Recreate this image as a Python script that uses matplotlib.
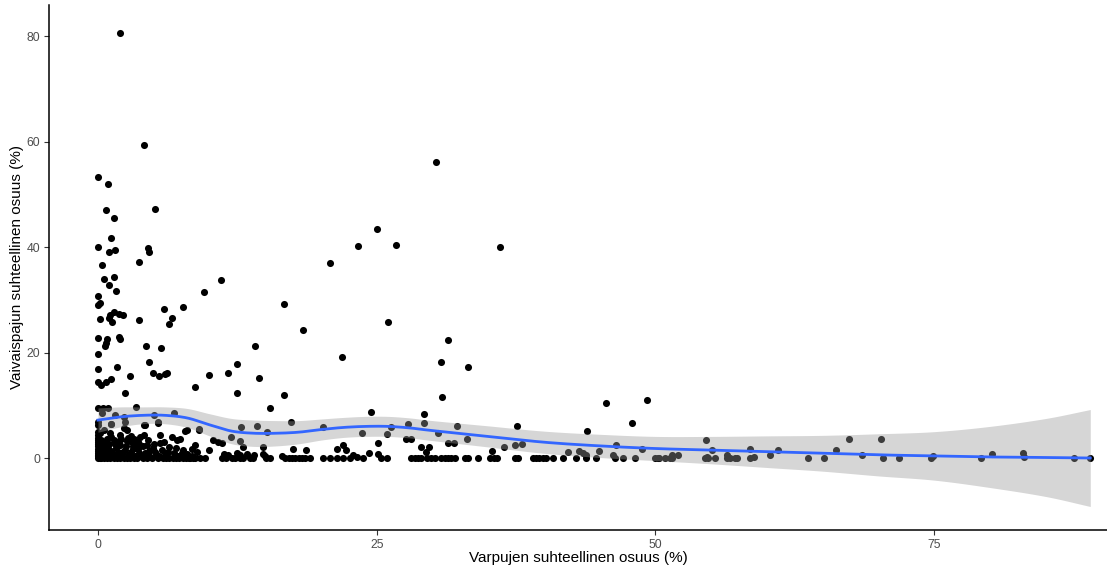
import matplotlib
matplotlib.use("Agg")
import matplotlib.pyplot as plt
import numpy as np

# Scatter data (x = varpujen osuus, y = vaivaispajun osuus)
upper_x = [2.0, 4.1, 0.0, 0.9, 5.1, 0.75, 1.4, 1.2, 0.0, 1.5, 1.0, 4.5, 4.6, 3.7,
           0.4, 1.4, 0.5, 1.0, 1.6, 0.0, 0.15, 0.0, 11.0, 9.5, 7.65, 5.9, 6.6, 6.4,
           3.7, 16.7, 0.2, 0.96, 1.3, 1.4, 1.85, 2.2, 1.1, 0.0, 1.9, 1.95, 0.85,
           0.7, 0.6, 4.3, 5.65, 14.1, 0.0, 0.0, 1.75, 4.6, 4.9, 5.5, 6.0, 6.2, 2.9,
           0.0, 0.25, 0.7, 1.2, 2.4, 8.7, 10.0, 11.7, 12.5, 12.5, 14.4, 15.4, 16.7,
           0.0, 0.45, 0.9, 3.4, 5.0, 6.8, 2.3, 0.33, 1.5, 0.0, 2.4, 4.2, 5.35, 7.8,
           9.1, 1.2, 0.0, 18.4, 21.85]
upper_y = [80.7, 59.4, 53.4, 52.0, 47.3, 47.0, 45.5, 41.8, 40.1, 39.5, 39.0, 39.8,
           39.0, 37.1, 36.6, 34.4, 34.0, 32.8, 31.6, 30.8, 29.5, 29.0, 33.7, 31.5,
           28.7, 28.2, 26.6, 25.4, 26.1, 29.3, 26.4, 26.6, 25.8, 27.7, 27.3, 27.1,
           27.1, 22.7, 23.0, 22.5, 22.5, 21.8, 21.3, 21.2, 20.9, 21.2, 19.7, 16.9,
           17.3, 18.2, 16.1, 15.5, 16.0, 16.1, 15.6, 14.4, 13.9, 14.4, 14.9, 12.4,
           13.5, 15.8, 16.1, 17.8, 12.4, 15.2, 9.4, 12.0, 9.4, 9.4, 9.4, 9.6, 8.2,
           8.6, 7.8, 8.5, 8.2, 6.9, 6.9, 6.2, 6.7, 5.2, 5.5, 6.4, 6.3, 24.3, 19.2]

# Dense cluster near the origin
dense_x = [0.0, 0.0, 0.0, 0.0, 0.0, 0.0, 0.0, 0.0, 0.0, 0.0, 0.0, 0.0, 0.0,
           0.3, 0.3, 0.3, 0.3, 0.3, 0.3,
           0.2, 0.5, 0.8, 1.1, 1.4, 1.7, 2.0, 2.3, 2.6, 2.9, 3.2, 3.5, 4.0, 4.4,
           4.8, 5.4, 5.8, 6.1, 6.4, 6.7, 7.0, 7.3, 7.6, 7.9, 8.2, 8.5,
           0.7, 1.0, 1.3, 1.6, 1.9, 2.2, 2.5, 2.8, 3.1, 3.4, 3.7, 4.0, 4.3, 4.6,
           5.0, 5.2, 5.7, 6.0, 6.4, 6.8, 7.2, 7.6, 8.0, 8.4, 1.2, 0.8, 2.0, 2.7,
           3.0, 4.5, 5.9, 6.6, 7.1, 7.4, 8.0, 8.7,
           0.5, 1.1, 2.3, 2.6, 5.6, 3.8, 4.1, 3.2, 1.2, 4.1, 5.4,
           0.4, 0.6, 0.9, 1.2, 1.5, 1.8, 2.1, 2.4, 2.7, 3.0, 3.3, 3.6, 3.9, 4.2,
           4.6, 5.1, 5.5, 6.3, 6.9, 7.5, 8.1,
           0.5, 0.9, 1.5, 2.0, 2.6, 3.1, 3.7, 4.4, 4.9, 5.6, 6.2, 7.0, 7.8,
           0.6, 1.4, 2.1, 2.9, 3.6, 0.2, 0.2, 0.2]
dense_y = [0.0, 0.3, 0.6, 1.0, 1.4, 1.8, 2.2, 2.6, 3.0, 3.4, 3.8, 4.4, 5.0,
           0.0, 0.5, 1.2, 2.0, 2.8, 3.5,
           0.0, 0.0, 0.0, 0.0, 0.0, 0.0, 0.0, 0.0, 0.0, 0.0, 0.0, 0.0, 0.0, 0.0,
           0.0, 0.0, 0.0, 0.0, 0.0, 0.0, 0.0, 0.0, 0.0, 0.0, 0.0, 0.0,
           1.5, 2.6, 0.8, 1.9, 3.2, 1.2, 2.3, 0.6, 1.7, 2.9, 1.0, 2.2, 0.5, 1.4,
           2.6, 0.8, 1.6, 0.5, 2.0, 1.0, 0.4, 1.5, 0.8, 0.4, 4.0, 3.6, 4.4, 3.8,
           4.2, 3.5, 3.0, 3.9, 3.4, 3.7, 5.3, 2.5,
           5.3, 4.7, 5.6, 5.3, 4.4, 4.0, 4.4, 3.7, 6.4, 6.3, 6.8,
           0.3, 0.9, 0.4, 1.3, 0.5, 1.1, 0.4, 1.6, 0.3, 1.2, 0.4, 1.8, 0.4, 0.9,
           0.3, 1.2, 0.4, 1.2, 0.5, 0.9, 0.3,
           2.0, 1.9, 2.7, 2.4, 3.3, 2.3, 2.6, 2.5, 1.9, 2.8, 0.9, 1.9, 0.3,
           3.0, 3.4, 3.6, 3.3, 3.0, 4.7, 2.4, 1.6]

mid_x = [12.8, 14.3, 17.3, 20.2, 15.2, 11.9, 12.7, 13.0, 14.8, 10.3, 10.8, 11.1,
         21.4, 22.0, 22.2, 8.4, 8.85, 10.0, 17.5, 18.7, 9.1, 11.3, 11.7, 12.5,
         12.7, 13.4, 14.0, 14.8, 15.0, 16.5,
         8.25, 8.7, 9.15, 9.6, 11.1, 11.5, 12.0, 12.3, 12.7, 13.0, 13.6, 13.9,
         15.1, 15.4, 16.8, 17.1, 17.4, 17.7, 18.0, 18.3, 18.6, 19.0, 20.2, 20.8,
         21.4, 22.0, 22.6]
mid_y = [5.9, 6.1, 6.8, 5.9, 5.0, 3.9, 3.3, 2.1, 2.1, 3.4, 3.1, 2.8,
         1.8, 2.5, 1.5, 1.8, 1.2, 1.5, 1.8, 1.6, 5.3, 0.8, 0.5, 1.0,
         0.5, 0.8, 0.5, 0.8, 0.3, 0.3,
         0.0, 0.0, 0.0, 0.0, 0.0, 0.0, 0.0, 0.0, 0.0, 0.0, 0.0, 0.0,
         0.0, 0.0, 0.0, 0.0, 0.0, 0.0, 0.0, 0.0, 0.0, 0.0, 0.0, 0.0,
         0.0, 0.0, 0.0]

right_x = [30.3, 25.05, 23.35, 26.7, 20.8, 36.05, 26.0, 31.4, 30.8, 33.2, 30.9,
           24.5, 45.6, 49.2, 47.9, 29.2, 29.2, 27.8, 26.3, 23.7, 25.9, 25.1, 27.6,
           28.1, 30.5, 32.2, 33.1, 29.0, 29.7, 31.4, 31.9, 29.4, 37.6, 37.4, 38.0,
           36.4, 35.3, 43.9, 46.5, 44.9, 43.1, 43.5, 42.2, 48.8, 54.5, 55.1, 54.6,
           56.4, 51.5, 52.0, 46.2, 24.3, 22.9, 23.2, 25.1, 58.5, 43.8,
           23.8, 25.4, 25.9, 28.1, 28.4, 28.7, 29.0, 29.5, 29.9, 30.2, 30.8, 31.1,
           31.4, 31.7, 32.0, 32.9, 33.2, 34.1, 35.2, 35.5, 35.8, 37.4, 37.7, 39.0,
           39.3, 39.6, 39.9, 40.2, 40.8, 41.7, 42.9, 44.7, 47.1, 48.2, 50.0, 50.3,
           50.9, 51.3, 56.4, 57.3, 43.8, 46.4, 50.2, 51.5, 54.7]
right_y = [56.2, 43.4, 40.3, 40.4, 37.0, 40.0, 25.8, 22.3, 18.3, 17.2, 11.6,
           8.8, 10.5, 11.1, 6.6, 8.3, 6.7, 6.4, 5.8, 4.8, 4.5, 2.9, 3.7,
           3.7, 4.8, 6.1, 3.7, 2.1, 2.0, 2.8, 2.8, 1.2, 6.1, 2.5, 2.7,
           2.0, 1.4, 5.2, 2.5, 1.4, 1.4, 0.9, 1.1, 1.8, 3.4, 1.6, 0.25,
           0.5, 0.6, 0.6, 0.6, 0.9, 0.6, 0.25, 0.7, 1.8, 0.6,
           0.0, 0.0, 0.0, 0.0, 0.0, 0.0, 0.0, 0.0, 0.0, 0.0, 0.0, 0.0,
           0.0, 0.0, 0.0, 0.0, 0.0, 0.0, 0.0, 0.0, 0.0, 0.0, 0.0, 0.0,
           0.0, 0.0, 0.0, 0.0, 0.0, 0.0, 0.0, 0.0, 0.0, 0.0, 0.0, 0.0,
           0.0, 0.0, 0.0, 0.0, 0.0, 0.0, 0.0, 0.0, 0.0]

far_x = [54.4, 55.3, 56.7, 57.1, 58.5, 58.8, 60.3, 61.0, 63.7, 65.1, 66.2, 67.4,
         68.5, 70.2, 70.4, 71.8, 74.7, 74.9, 79.2, 80.2, 83.0, 83.1, 87.5, 89.0]
far_y = [0.0, 0.0, 0.0, 0.0, 0.0, 0.25, 0.6, 1.5, 0.0, 0.0, 1.5, 3.7,
         0.5, 3.7, 0.0, 0.0, 0.0, 0.4, 0.0, 0.8, 0.9, 0.1, 0.0, 0.0]

# Loess fit with confidence band
smooth_x = [0, 2, 4, 6, 8, 10, 12, 14, 16, 18, 20, 22, 24, 26, 28, 30, 35, 40,
            45, 50, 55, 60, 65, 70, 75, 80, 85, 89]
smooth_fit = [7.2, 7.8, 8.1, 8.1, 7.6, 6.3, 5.1, 4.7, 4.7, 4.9, 5.4, 5.8, 6.0,
              6.0, 5.7, 5.2, 4.1, 3.0, 2.3, 1.8, 1.5, 1.2, 0.9, 0.6, 0.4, 0.2,
              0.1, 0.0]
smooth_hi = [9.5, 9.7, 9.7, 9.7, 9.4, 8.4, 7.5, 7.2, 7.1, 7.1, 7.4, 7.7, 7.9,
             7.9, 7.6, 7.1, 6.1, 5.1, 4.5, 4.1, 4.1, 4.2, 4.3, 4.6, 5.0, 6.0,
             7.5, 9.2]
smooth_lo = [4.9, 5.9, 6.5, 6.5, 5.8, 4.2, 2.7, 2.2, 2.3, 2.7, 3.4, 3.9, 4.1,
             4.1, 3.8, 3.3, 2.1, 0.9, 0.1, -0.5, -1.1, -1.8, -2.5, -3.4, -4.2,
             -5.6, -7.3, -9.2]

X_TICKS = [0, 25, 50, 75]
Y_TICKS = [0, 20, 40, 60, 80]


def catmull_rom(xs, ys, steps=12):
    """Smooth curve through the given points (Catmull-Rom spline)."""
    xs = np.asarray(xs, float)
    ys = np.asarray(ys, float)
    px = np.concatenate([[2 * xs[0] - xs[1]], xs, [2 * xs[-1] - xs[-2]]])
    py = np.concatenate([[2 * ys[0] - ys[1]], ys, [2 * ys[-1] - ys[-2]]])
    out_x, out_y = [], []
    t = np.linspace(0, 1, steps, endpoint=False)
    for i in range(1, len(px) - 2):
        for p, out in ((px, out_x), (py, out_y)):
            p0, p1, p2, p3 = p[i - 1], p[i], p[i + 1], p[i + 2]
            out.extend(0.5 * (2 * p1 + (-p0 + p2) * t
                              + (2 * p0 - 5 * p1 + 4 * p2 - p3) * t ** 2
                              + (-p0 + 3 * p1 - 3 * p2 + p3) * t ** 3))
    out_x.append(xs[-1])
    out_y.append(ys[-1])
    return np.array(out_x), np.array(out_y)


plt.rcParams["font.family"] = ["Liberation Sans", "DejaVu Sans"]

fig = plt.figure(figsize=(11.07, 5.68), dpi=100)
ax = fig.add_axes([0.0443, 0.0669, 0.9557, 0.9243])

all_x = upper_x + dense_x + mid_x + right_x + far_x
all_y = upper_y + dense_y + mid_y + right_y + far_y
ax.scatter(all_x, all_y, s=26, color="black", linewidths=0, zorder=2)

# ribbon over points, like geom_smooth
sx, shi = catmull_rom(smooth_x, smooth_hi)
_, slo = catmull_rom(smooth_x, smooth_lo)
_, sfit = catmull_rom(smooth_x, smooth_fit)
ax.fill_between(sx, slo, shi, color="#999999", alpha=0.4, linewidth=0, zorder=3)
ax.plot(sx, sfit, color="#3366FF", linewidth=2.0, zorder=4)

ax.set_xlim(-4.39, 90.5)
ax.set_ylim(-13.66, 85.96)
ax.set_xticks(X_TICKS)
ax.set_yticks(Y_TICKS)

for side in ["top", "right"]:
    ax.spines[side].set_visible(False)
for side in ["left", "bottom"]:
    ax.spines[side].set_linewidth(1.1)
    ax.spines[side].set_color("black")

ax.tick_params(axis="both", length=3.5, width=0.8, color="#333333",
               labelcolor="#4D4D4D", labelsize=8.8, pad=3)

ax.set_xlabel("Varpujen suhteellinen osuus (%)", fontsize=11, labelpad=0)
ax.set_ylabel("Vaivaispajun suhteellinen osuus (%)", fontsize=11, labelpad=2)

fig.savefig("out.png", dpi=100)
